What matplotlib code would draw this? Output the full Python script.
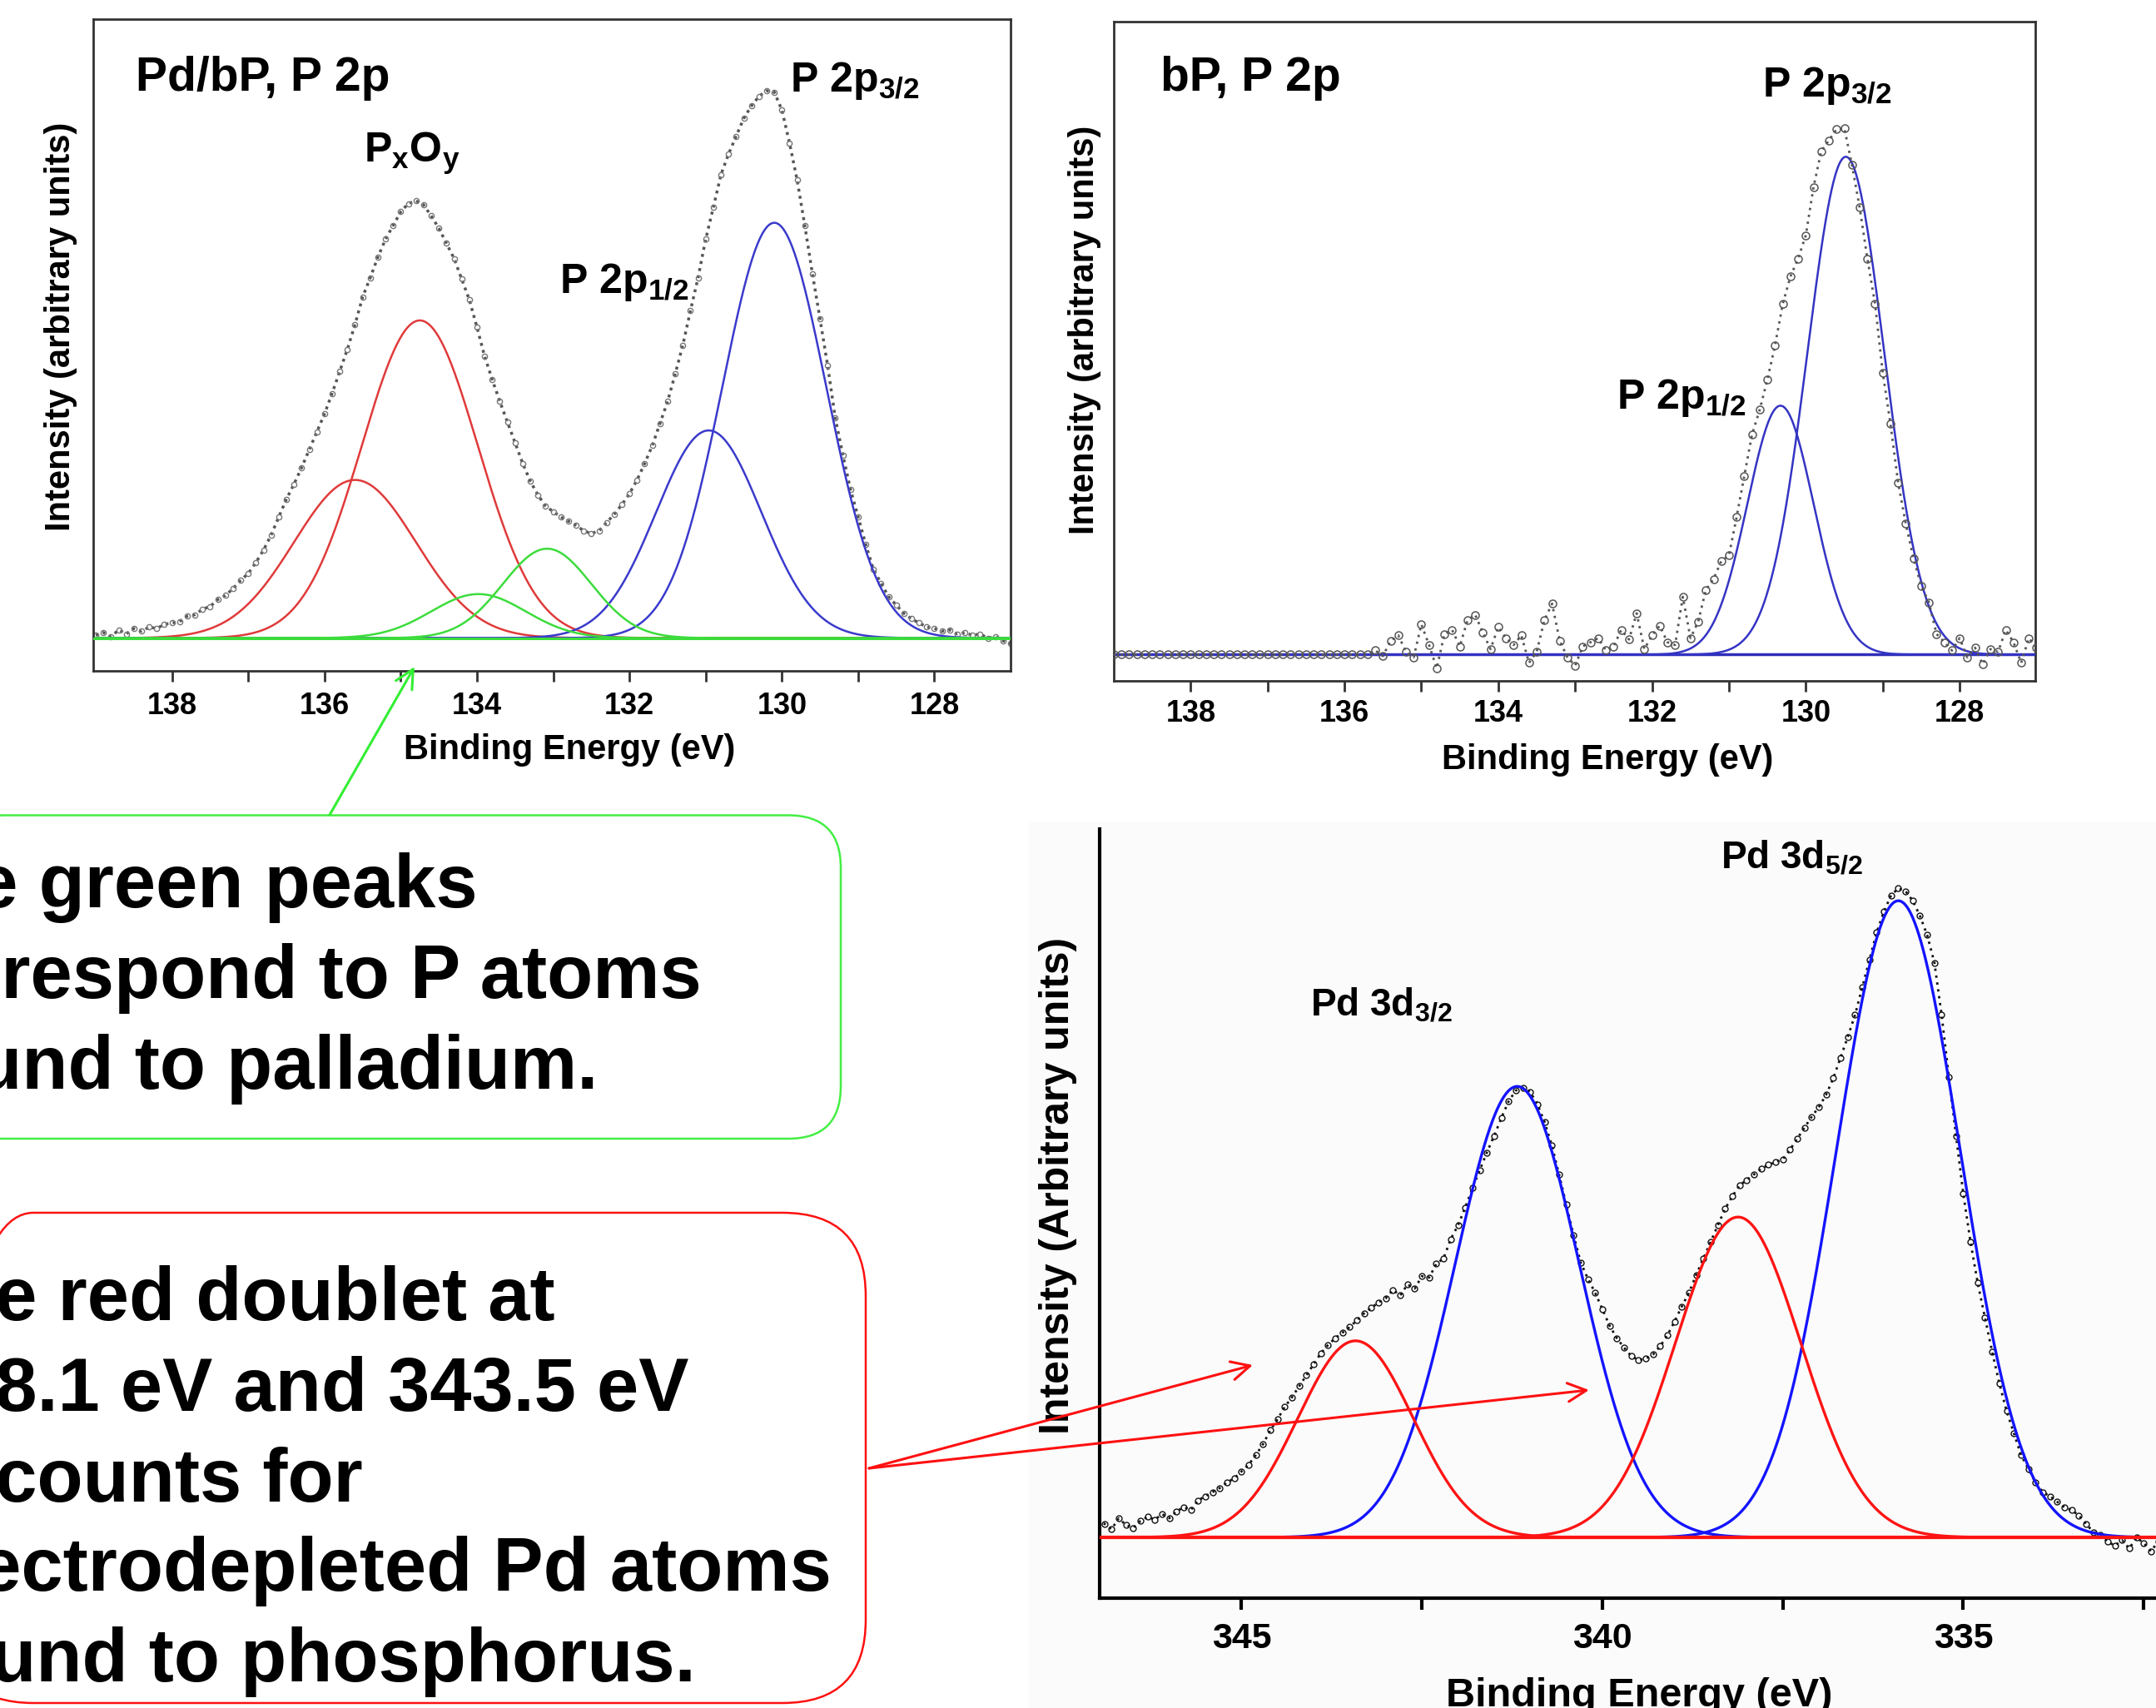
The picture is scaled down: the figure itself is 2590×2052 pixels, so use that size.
import numpy as np
import matplotlib.pyplot as plt
from matplotlib.patches import FancyBboxPatch, Rectangle

plt.rcParams['font.family'] = ['Liberation Sans', 'DejaVu Sans']
plt.rcParams['font.weight'] = 'bold'
plt.rcParams['mathtext.fontset'] = 'custom'
plt.rcParams['mathtext.rm'] = 'Liberation Sans:bold'
plt.rcParams['mathtext.it'] = 'Liberation Sans:bold'
plt.rcParams['mathtext.bf'] = 'Liberation Sans:bold'
plt.rcParams['mathtext.default'] = 'rm'

# --- Pd/bP, P 2p (top left) ---
pdbp_energy = np.round(np.arange(139.0, 126.95, -0.1), 1)
pdbp_counts = [
    2, 4, 1, 6, 3, 7, 5, 8, 7, 10,
    11, 12, 16, 17, 21, 23, 28, 31, 36, 42,
    47, 55, 64, 75, 88, 101, 112, 124, 137, 150,
    163, 178, 194, 210, 228, 248, 262, 277, 290, 300,
    310, 316, 318, 315, 307, 298, 287, 276, 261, 246,
    226, 205, 188, 172, 157, 142, 127, 114, 104, 96,
    92, 88, 85, 82, 78, 76, 78, 84, 90, 97,
    105, 115, 127, 140, 156, 172, 192, 213, 238, 262,
    290, 313, 337, 352, 365, 378, 387, 394, 398, 397,
    384, 360, 333, 300, 265, 232, 198, 160, 133, 108,
    88, 68, 50, 40, 30, 24, 18, 14, 11, 8,
    7, 5, 6, 3, 4, 2, 3, 0, 1, -2,
    -4,
]
# fitted components: (centre eV, height, sigma eV)
pdbp_red = [(135.6, 115, 0.80), (134.75, 231, 0.76)]
pdbp_green = [(133.98, 32, 0.62), (133.08, 65, 0.58)]
pdbp_blue = [(130.96, 151, 0.69), (130.1, 302, 0.68)]

# --- bP, P 2p (top right) ---
bp_energy = np.round(np.arange(139.0, 126.95, -0.1), 1)
bp_counts = [
    0, 0, 0, 0, 0, 0, 0, 0, 0, 0,
    0, 0, 0, 0, 0, 0, 0, 0, 0, 0,
    0, 0, 0, 0, 0, 0, 0, 0, 0, 0,
    0, 0, 0, 0, 3, -1, 10, 14, 2, -2,
    22, 7, -10, 15, 18, 6, 25, 29, 16, 4,
    20, 12, 7, 14, -6, 2, 25, 37, 10, -2,
    -8, 6, 9, 12, 3, 6, 18, 11, 30, 4,
    14, 21, 9, 7, 42, 12, 24, 47, 55, 68,
    72, 100, 130, 160, 178, 200, 225, 255, 275, 288,
    305, 340, 366, 374, 382, 383, 356, 325, 288, 255,
    205, 168, 125, 95, 70, 50, 38, 15, 9, 3,
    12, -2, 5, -7, 4, 2, 18, 9, -6, 12,
    5,
]
bp_blue = [(130.33, 181, 0.43), (129.48, 362, 0.50)]

# --- Pd 3d (bottom right) ---
pd_energy = np.round(np.arange(347.0, 332.25, -0.1), 1)
pd_counts = [
    12, 10, 6, 14, 9, 7, 12, 15, 13, 17,
    14, 19, 22, 20, 27, 30, 33, 36, 40, 43,
    48, 53, 60, 68, 78, 86, 95, 102, 110, 118,
    126, 134, 140, 145, 149, 153, 158, 163, 167, 171,
    174, 180, 176, 184, 181, 190, 189, 199, 203, 217,
    227, 240, 254, 267, 280, 292, 305, 317, 325, 327,
    324, 315, 302, 285, 264, 242, 220, 200, 188, 178,
    166, 154, 145, 138, 132, 129, 130, 133, 139, 147,
    157, 168, 178, 191, 203, 215, 227, 239, 248, 256,
    260, 264, 268, 271, 273, 275, 282, 290, 298, 306,
    313, 322, 334, 349, 364, 380, 400, 420, 440, 455,
    467, 472, 470, 463, 452, 438, 418, 380, 335, 292,
    250, 215, 185, 160, 135, 112, 92, 76, 60, 50,
    40, 33, 30, 26, 22, 20, 16, 10, 4, 2,
    -3, -6, -2, -8, 0, -4, -10, -3,
]
pd_blue = [(335.9, 463, 0.86), (341.18, 328, 0.86)]
pd_red = [(338.12, 233, 0.87), (343.42, 143, 0.80)]


def gauss(e, centre, height, sigma):
    return height * np.exp(-0.5 * ((e - centre) / sigma) ** 2)


def frame(ax, xlim, ylim, major, minor, color, lw, size, pad, tick_len):
    ax.set_xlim(*xlim)
    ax.set_ylim(*ylim)
    ax.set_xticks(major)
    ax.set_xticks(minor, minor=True)
    ax.set_yticks([])
    ax.tick_params(axis='x', which='both', direction='out', length=tick_len,
                   width=lw, color=color, labelsize=size, pad=pad)
    for s in ax.spines.values():
        s.set_color(color)
        s.set_linewidth(lw)


fig = plt.figure(figsize=(25.9, 20.52), dpi=100)
fig.add_artist(Rectangle((1236 / 2590, 0), 1 - 1236 / 2590, (2052 - 988) / 2052,
                         transform=fig.transFigure, facecolor='#fbfbfb',
                         edgecolor='none', zorder=-1))

# panel 1
ax1 = fig.add_axes([0.04337, 0.60709, 0.42538, 0.38164])
e1 = np.linspace(139.0, 127.0, 1500)
ax1.plot(pdbp_energy, pdbp_counts, ls=(0, (1, 1.5)), lw=2.5, color='#555555',
         marker='o', ms=4.5, mfc='none', mec='#777777', mew=1.0, zorder=2)
for c, h, s in pdbp_red:
    ax1.plot(e1, gauss(e1, c, h, s), color='#e03a3a', lw=1.8, zorder=3)
for c, h, s in pdbp_blue:
    ax1.plot(e1, gauss(e1, c, h, s), color='#3a3acc', lw=1.8, zorder=3)
for c, h, s in pdbp_green:
    ax1.plot(e1, gauss(e1, c, h, s), color='#3cdc3c', lw=1.8, zorder=4)
ax1.axhline(0, color='#3cdc3c', lw=2.2, zorder=5)
frame(ax1, (139.03, 127.0), (-24, 450), [138, 136, 134, 132, 130, 128],
      [137, 135, 133, 131, 129], '#333333', 2.0, 26, 9, 9)

# panel 2
ax2 = fig.add_axes([0.51658, 0.60145, 0.42730, 0.38567])
e2 = np.linspace(139.0, 127.0, 1500)
ax2.axhline(0, color='#2f2fb8', lw=2.5, zorder=2)
for c, h, s in bp_blue:
    ax2.plot(e2, gauss(e2, c, h, s), color='#3434c4', lw=1.8, zorder=3)
ax2.plot(bp_energy, bp_counts, ls=(0, (1, 2)), lw=2.0, color='#555555',
         marker='o', ms=6.5, mfc='none', mec='#555555', mew=1.1, zorder=4)
frame(ax2, (139.0, 127.02), (-19, 460), [138, 136, 134, 132, 130, 128],
      [137, 135, 133, 131, 129], '#333333', 2.0, 26, 7, 9)

# panel 3
ax3 = fig.add_axes([0.51020, 0.06441, 0.48980, 0.45008])
ax3.set_facecolor('none')
e3 = np.linspace(347.0, 332.3, 1500)
ax3.plot(pd_energy, pd_counts, ls=(0, (1, 2)), lw=2.0, color='#111111',
         marker='o', ms=5, mfc='none', mec='#111111', mew=1.0, zorder=2)
for c, h, s in pd_blue:
    ax3.plot(e3, gauss(e3, c, h, s), color='#1414ff', lw=2.4, zorder=3)
for c, h, s in pd_red:
    ax3.plot(e3, gauss(e3, c, h, s), color='#ff1414', lw=2.4, zorder=3)
ax3.axhline(0, color='#ff1414', lw=3.0, zorder=4)
frame(ax3, (346.96, 332.33), (-44, 515), [345, 340, 335],
      [342.5, 337.5, 332.5], '#000000', 3.0, 31, 11, 10)
ax3.spines['top'].set_visible(False)
ax3.spines['right'].set_visible(False)

# overlay in pixel coordinates for labels, boxes and arrows
ov = fig.add_axes([0, 0, 1, 1], zorder=10)
ov.set_xlim(0, 2590)
ov.set_ylim(2052, 0)
ov.axis('off')


def label(x, y, s, size, **kw):
    ov.text(x, y, s, fontsize=size, fontweight='bold', ha='left',
            va='baseline', color='black', **kw)


label(163, 109, 'Pd/bP, P 2p', 41)
label(949, 110, 'P 2p$_{3/2}$', 36)
label(437, 195, 'P$_x$O$_y$', 36)
label(672, 352, 'P 2p$_{1/2}$', 36)
label(1394, 109, 'bP, P 2p', 41)
label(2117, 116, 'P 2p$_{3/2}$', 36)
label(1942, 491, 'P 2p$_{1/2}$', 36)
label(2067, 1043, 'Pd 3d$_{5/2}$', 33)
label(1574, 1220, 'Pd 3d$_{3/2}$', 33)

ov.text(684, 912, 'Binding Energy (eV)', fontsize=30, ha='center', va='baseline')
ov.text(1931, 924, 'Binding Energy (eV)', fontsize=30, ha='center', va='baseline')
ov.text(1969, 2050, 'Binding Energy (eV)', fontsize=35, ha='center', va='baseline')
ov.text(84, 392, 'Intensity (arbitrary units)', fontsize=30, rotation=90,
        rotation_mode='anchor', ha='center', va='baseline')
ov.text(1314, 396, 'Intensity (arbitrary units)', fontsize=30, rotation=90,
        rotation_mode='anchor', ha='center', va='baseline')
ov.text(1284, 1424, 'Intensity (Arbitrary units)', fontsize=36, rotation=90,
        rotation_mode='anchor', ha='center', va='baseline')

# callout boxes
ov.add_patch(FancyBboxPatch((-60, 979.5), 1070, 388.5,
                            boxstyle='round,pad=0,rounding_size=63',
                            facecolor='none', edgecolor='#44ee44', lw=1.8))
ov.add_patch(FancyBboxPatch((-60, 1457), 1100, 589,
                            boxstyle='round,pad=0,rounding_size=100',
                            facecolor='none', edgecolor='#ff1010', lw=1.8))

green_lines = ['The green peaks', 'correspond to P atoms', 'bound to palladium.']
green_base = [1090, 1199, 1308]
for s, y in zip(green_lines, green_base):
    ov.text(-139, y, s, fontsize=65, ha='left', va='baseline')

red_lines = ['The red doublet at', '338.1 eV and 343.5 eV', 'accounts for',
             'electrodepleted Pd atoms', 'bound to phosphorus.']
red_base = [1586, 1695, 1804, 1911, 2020]
red_left = [-116, -106, -106, -100, -122]
for s, x, y in zip(red_lines, red_left, red_base):
    ov.text(x, y, s, fontsize=65, ha='left', va='baseline')

arrow_style = '->,head_length=0.8,head_width=0.4'
ov.annotate('', xy=(498, 801), xytext=(396, 979),
            arrowprops=dict(arrowstyle=arrow_style, color='#33ee33', lw=2.2,
                            mutation_scale=20, shrinkA=0, shrinkB=0))
for tip in [(1505, 1640), (1909, 1670)]:
    ov.annotate('', xy=tip, xytext=(1044, 1764),
                arrowprops=dict(arrowstyle=arrow_style, color='#ff1010', lw=2.2,
                                mutation_scale=20, shrinkA=0, shrinkB=0))

fig.savefig('out.png', dpi=100, facecolor='white')
